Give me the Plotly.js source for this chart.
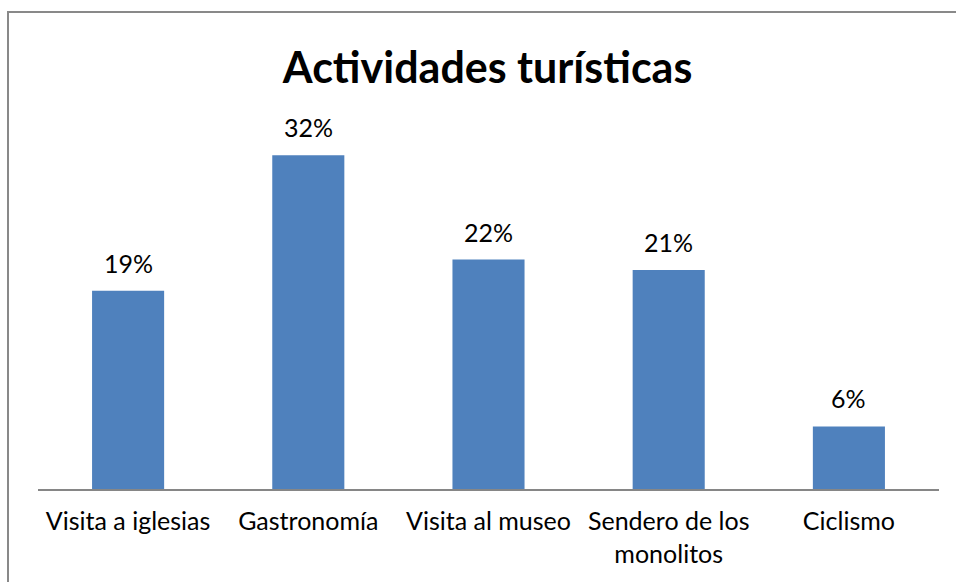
<!DOCTYPE html>
<html>
<head>
<meta charset="utf-8">
<script src="https://cdn.plot.ly/plotly-3.0.1.min.js"></script>
<style>
html,body{margin:0;padding:0;background:#fff;overflow:hidden;}
#chart{width:956px;height:582px;}
</style>
</head>
<body>
<div id="chart"></div>
<script>
const categories = ["Visita a iglesias", "Gastronomía", "Visita al museo", "Sendero de los<br>monolitos", "Ciclismo"];
const values = [0.19, 0.32, 0.22, 0.21, 0.06];
const valueLabels = ["19%", "32%", "22%", "21%", "6%"];

const FONT = "Lato, 'Open Sans', sans-serif";

const trace = {
  type: "bar",
  x: categories,
  y: values,
  marker: {color: "#4F81BD"},
  hoverinfo: "skip"
};

const annotations = categories.map((c, i) => ({
  x: c, y: values[i], xref: "x", yref: "y",
  text: valueLabels[i], showarrow: false,
  yanchor: "middle", yshift: 28,
  font: {family: FONT, size: 25, color: "#000"}
}));

const layout = {
  width: 956, height: 582,
  margin: {l: 38, r: 17, t: 124, b: 93},
  paper_bgcolor: "#fff", plot_bgcolor: "#fff",
  bargap: 0.6,
  showlegend: false,
  title: {
    text: "<b>Actividades turísticas</b>",
    font: {family: FONT, size: 43, color: "#000"},
    x: 0.499, xanchor: "center", xref: "paper",
    y: 1 - 68/582, yanchor: "middle", yref: "container"
  },
  xaxis: {
    showline: true, linecolor: "#868686", linewidth: 2,
    ticks: "", showgrid: false, zeroline: false,
    ticklabelstandoff: 9,
    tickfont: {family: FONT, size: 25, color: "#000"},
    fixedrange: true
  },
  yaxis: {
    range: [0, 0.35], visible: false, showgrid: false, zeroline: false,
    fixedrange: true
  },
  annotations: annotations,
  shapes: [{
    type: "rect", xref: "paper", yref: "paper",
    x0: (8 - 38) / 901, x1: (975 - 38) / 901,
    y0: (489 - 600) / 365, y1: (489 - 12) / 365,
    line: {color: "#898989", width: 2}, fillcolor: "rgba(0,0,0,0)",
    layer: "above"
  }]
};

Plotly.newPlot("chart", [trace], layout, {displayModeBar: false, staticPlot: true});
</script>
</body>
</html>
